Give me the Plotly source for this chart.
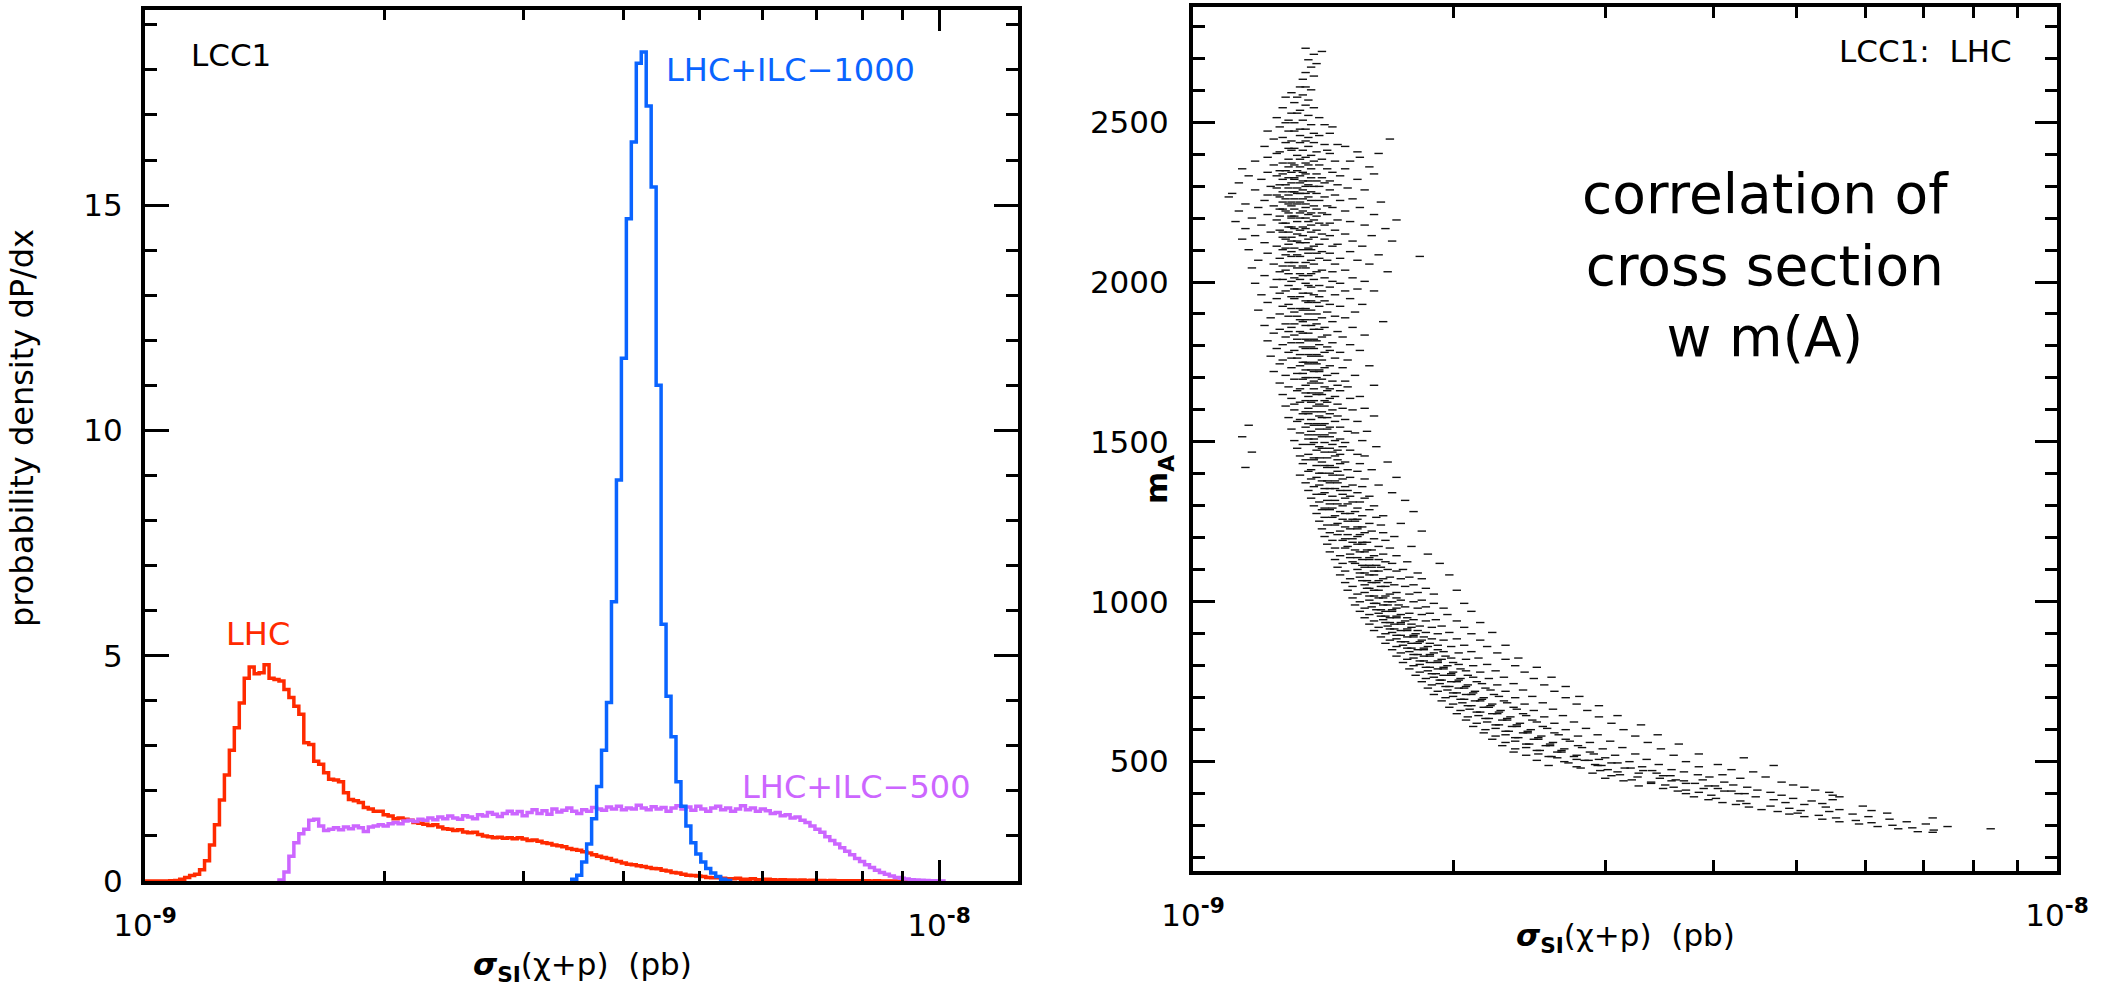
import plotly.graph_objects as go

W, H = 2106, 995

# ---------------- left panel: histograms (bins of 1/160 decade starting at 1e-9) ----------------
BIN_DEX = 0.00625
LOG_X0 = -9.0

RED_START = 0
RED_LHC = [
    0, 0, 0, 0, 0, 0.005, 0.01, 0.04, 0.08, 0.12,
    0.15, 0.25, 0.45, 0.8, 1.25, 1.8, 2.35, 2.9, 3.4, 3.95,
    4.5, 4.75, 4.6, 4.62, 4.8, 4.5, 4.47, 4.44, 4.25, 4.07,
    3.88, 3.70, 3.07, 3.03, 2.66, 2.59, 2.40, 2.26, 2.24, 2.2,
    1.96, 1.81, 1.78, 1.74, 1.63, 1.6, 1.55, 1.55, 1.47, 1.44,
    1.38, 1.40, 1.37, 1.35, 1.30, 1.28, 1.26, 1.23, 1.25, 1.2,
    1.16, 1.15, 1.12, 1.14, 1.09, 1.07, 1.08, 1.03, 1.0, 0.98,
    0.96, 0.97, 0.95, 0.96, 0.94, 0.96, 0.93, 0.90, 0.91, 0.88,
    0.85, 0.83, 0.80, 0.78, 0.76, 0.72, 0.7, 0.68, 0.65, 0.62,
    0.58, 0.55, 0.52, 0.50, 0.46, 0.43, 0.40, 0.37, 0.36, 0.34,
    0.32, 0.30, 0.28, 0.27, 0.24, 0.22, 0.19, 0.18, 0.15, 0.13,
    0.12, 0.11, 0.10, 0.08, 0.07, 0.07, 0.06, 0.05, 0.05, 0.06,
    0.04, 0.04, 0.05, 0.03, 0.03, 0.04, 0.03, 0.02, 0.03, 0.02,
    0.02, 0.015, 0.02, 0.01, 0.015, 0.01, 0.01, 0.008, 0.01, 0.005,
    0.005, 0.004, 0.003, 0.005, 0.002, 0.003, 0.002, 0.004, 0.002, 0.001,
    0.002, 0.001, 0.002, 0.001, 0.001, 0.002, 0.001, 0.001, 0, 0.001,
]

VIOLET_START = 27
VIOLET_ILC500 = [
    0.02, 0.2, 0.55, 0.85, 1.05, 1.15, 1.35, 1.37, 1.22, 1.12,
    1.15, 1.18, 1.14, 1.2, 1.16, 1.22, 1.18, 1.1, 1.2, 1.22,
    1.25, 1.22, 1.27, 1.3, 1.27, 1.33, 1.35, 1.32, 1.37, 1.35,
    1.40, 1.36, 1.42, 1.38, 1.44, 1.40, 1.37, 1.45, 1.42, 1.38,
    1.47, 1.44, 1.52, 1.48, 1.43, 1.5, 1.55, 1.49, 1.54, 1.45,
    1.52, 1.58, 1.50, 1.56, 1.48, 1.6, 1.53, 1.57, 1.62, 1.55,
    1.5, 1.58, 1.55, 1.63, 1.6, 1.57, 1.64, 1.6, 1.66, 1.58,
    1.62, 1.6, 1.68, 1.62, 1.58, 1.65, 1.6, 1.63, 1.55, 1.62,
    1.67, 1.6, 1.64, 1.57, 1.66, 1.6, 1.55, 1.62, 1.66, 1.58,
    1.62, 1.55, 1.6, 1.67, 1.58, 1.62, 1.55, 1.6, 1.56, 1.5,
    1.52, 1.45, 1.47, 1.4, 1.42, 1.35, 1.3, 1.22, 1.15, 1.08,
    0.98, 0.9, 0.82, 0.74, 0.66, 0.58, 0.5, 0.43, 0.36, 0.3,
    0.24, 0.19, 0.15, 0.11, 0.08, 0.06, 0.045, 0.03, 0.02, 0.015,
    0.01, 0.007, 0.004, 0.002,
]

BLUE_START = 86
BLUE_ILC1000 = [
    0.04, 0.13, 0.42, 0.82, 1.38, 2.1, 2.9, 3.96,
    6.2, 8.9, 11.6, 14.7, 16.4, 18.15, 18.4, 17.2,
    15.4, 11.0, 5.7, 4.1, 3.2, 2.2, 1.66, 1.22,
    0.85, 0.6, 0.42, 0.28, 0.18, 0.1, 0.04, 0.01,
]

# ---------------- right panel: scatter sigma_SI (1e-9 pb) vs m_A (GeV) ----------------
# each row: even-indexed points at MA_ROWS[i], odd-indexed points at MA_ROWS_B[i]
MA_ROWS = [2731, 2712, 2695, 2672, 2655, 2634, 2610, 2592, 2578, 2561, 2545, 2528, 2514, 2498, 2485,
           2472, 2458, 2447, 2436, 2424, 2412, 2402, 2390, 2378, 2366, 2354, 2343, 2332, 2321, 2310,
           2299, 2288, 2277, 2266, 2255, 2244, 2233, 2222, 2211, 2200, 2189, 2178, 2167, 2156, 2145,
           2134, 2123, 2112, 2101, 2090, 2080, 2068, 2056, 2044, 2032, 2020, 2008, 1996, 1984, 1972,
           1960, 1948, 1936, 1924, 1912, 1900, 1888, 1876, 1864, 1852, 1840, 1828, 1816, 1804, 1792,
           1780, 1768, 1756, 1744, 1732, 1720, 1708, 1696, 1684, 1672, 1660, 1648, 1636, 1624, 1612,
           1600, 1588, 1576, 1564, 1552, 1540, 1528, 1516, 1504, 1492, 1480, 1468, 1456, 1444, 1432,
           1420, 1408, 1396, 1384, 1372, 1360, 1348, 1336, 1324, 1312, 1300, 1288, 1276, 1264, 1252,
           1240, 1228, 1216, 1204, 1192, 1180, 1168, 1156, 1144, 1132, 1120, 1108, 1096, 1084, 1072,
           1060, 1048, 1036, 1024, 1012, 1000, 990, 980, 970, 960, 950, 940, 930, 920, 910,
           900, 890, 880, 870, 860, 850, 840, 830, 820, 810, 800, 790, 780, 770, 760,
           750, 740, 730, 720, 710, 700, 690, 680, 670, 660, 650, 640, 630, 620, 610,
           600, 590, 580, 570, 560, 550, 540, 530, 520, 512, 504, 496, 488, 480, 472,
           464, 456, 448, 440, 432, 424, 416, 408, 400, 390, 381, 372, 366, 358, 350,
           344, 336, 328, 320, 312, 305, 297, 290, 281]

MA_ROWS_B = [2721, 2703, 2683, 2664, 2644, 2622, 2601, 2585, 2569, 2553, 2537, 2521, 2506, 2492, 2478,
             2465, 2452, 2441, 2430, 2418, 2407, 2396, 2384, 2372, 2360, 2348, 2338, 2326, 2316, 2304,
             2294, 2282, 2272, 2260, 2250, 2238, 2228, 2216, 2206, 2194, 2184, 2172, 2162, 2150, 2140,
             2128, 2118, 2106, 2095, 2085, 2074, 2061, 2050, 2037, 2026, 2013, 2002, 1989, 1978, 1965,
             1954, 1941, 1930, 1917, 1906, 1893, 1882, 1869, 1858, 1845, 1834, 1821, 1810, 1797, 1786,
             1773, 1762, 1749, 1738, 1725, 1714, 1701, 1690, 1677, 1666, 1653, 1642, 1629, 1618, 1605,
             1594, 1581, 1570, 1557, 1546, 1533, 1522, 1509, 1498, 1485, 1474, 1461, 1450, 1437, 1426,
             1413, 1402, 1389, 1378, 1365, 1354, 1341, 1330, 1317, 1306, 1293, 1282, 1269, 1258, 1245,
             1234, 1221, 1210, 1197, 1186, 1173, 1162, 1149, 1138, 1125, 1114, 1101, 1090, 1077, 1066,
             1053, 1042, 1029, 1018, 1005, 995, 984, 975, 964, 955, 944, 935, 924, 915, 904,
             895, 884, 875, 864, 855, 844, 835, 824, 815, 804, 795, 784, 775, 764, 755,
             744, 735, 724, 715, 704, 695, 684, 675, 664, 655, 644, 635, 624, 615, 604,
             595, 584, 575, 564, 555, 544, 535, 524, 516, 507, 500, 491, 484, 475, 468,
             459, 452, 443, 436, 427, 420, 411, 404, 395, 385, 377, 369, 361, 354, 347,
             339, 332, 324, 316, 309, 301, 293, 286, 279]

SIGMA_ROWS = [
    [1.35, 1.41], [1.38], [1.36, 1.39], [1.37], [1.35, 1.38], [1.34], [1.33, 1.37, 1.35],
    [1.30, 1.34], [1.28, 1.36, 1.32], [1.31, 1.35], [1.27, 1.33, 1.38], [1.30, 1.36, 1.32],
    [1.25, 1.34, 1.40, 1.29], [1.31, 1.37, 1.28, 1.42], [1.26, 1.33, 1.45, 1.35],
    [1.29, 1.38, 1.31, 1.44, 1.22], [1.33, 1.27, 1.40, 1.36], [1.69, 1.30, 1.24, 1.35],
    [1.28, 1.42, 1.33, 1.47, 1.38], [1.21, 1.31, 1.36, 1.29, 1.50], [1.34, 1.26, 1.43, 1.39, 1.30, 1.55],
    [1.64, 1.32, 1.25, 1.37, 1.44], [1.56, 1.29, 1.35, 1.41, 1.22, 1.33],
    [1.18, 1.30, 1.38, 1.27, 1.46, 1.35, 1.52], [1.24, 1.33, 1.40, 1.29, 1.36, 1.60, 1.31],
    [1.14, 1.28, 1.37, 1.32, 1.43, 1.26, 1.50], [1.22, 1.35, 1.30, 1.39, 1.45, 1.27, 1.34, 1.62],
    [1.16, 1.29, 1.33, 1.41, 1.25, 1.37, 1.48, 1.31], [1.20, 1.34, 1.27, 1.39, 1.31, 1.44, 1.55, 1.36],
    [1.13, 1.26, 1.30, 1.36, 1.42, 1.28, 1.33, 1.47], [1.23, 1.32, 1.38, 1.29, 1.35, 1.51, 1.40, 1.25],
    [1.18, 1.27, 1.34, 1.31, 1.44, 1.37, 1.58, 1.30], [1.11, 1.25, 1.33, 1.29, 1.39, 1.46, 1.35, 1.22, 1.32],
    [1.10, 1.28, 1.36, 1.31, 1.42, 1.34, 1.26, 1.53], [1.21, 1.30, 1.37, 1.27, 1.40, 1.33, 1.48, 1.65],
    [1.15, 1.24, 1.32, 1.38, 1.29, 1.43, 1.35, 1.30], [1.19, 1.27, 1.35, 1.31, 1.45, 1.39, 1.56, 1.26],
    [1.13, 1.29, 1.34, 1.41, 1.28, 1.37, 1.50, 1.33], [1.22, 1.31, 1.36, 1.26, 1.43, 1.39, 1.62, 1.30],
    [1.17, 1.25, 1.33, 1.38, 1.30, 1.47, 1.35, 1.72], [1.12, 1.28, 1.32, 1.40, 1.36, 1.27, 1.52, 1.44],
    [1.20, 1.30, 1.37, 1.34, 1.42, 1.29, 1.58], [1.15, 1.26, 1.35, 1.39, 1.31, 1.46, 1.67, 1.33],
    [1.23, 1.32, 1.29, 1.41, 1.37, 1.50, 1.27], [1.18, 1.27, 1.34, 1.38, 1.44, 1.30, 1.61],
    [1.14, 1.30, 1.36, 1.32, 1.42, 1.53, 1.28, 1.70], [1.21, 1.29, 1.35, 1.40, 1.33, 1.47],
    [1.25, 1.31, 1.38, 1.28, 1.45, 1.36, 1.57], [1.16, 1.30, 1.34, 1.41, 1.37, 1.52, 1.27],
    [1.22, 1.28, 1.36, 1.32, 1.44, 1.64, 1.39], [1.83, 1.26, 1.33, 1.40, 1.30, 1.48],
    [1.19, 1.31, 1.37, 1.29, 1.43, 1.35, 1.55], [1.24, 1.30, 1.38, 1.34, 1.46, 1.27, 1.60],
    [1.17, 1.28, 1.35, 1.41, 1.32, 1.50], [1.26, 1.33, 1.39, 1.29, 1.45, 1.37, 1.68],
    [1.21, 1.31, 1.36, 1.42, 1.34, 1.53], [1.27, 1.30, 1.38, 1.45, 1.33, 1.58, 1.25],
    [1.18, 1.29, 1.35, 1.40, 1.48, 1.36], [1.24, 1.32, 1.37, 1.31, 1.44, 1.55],
    [1.28, 1.34, 1.41, 1.36, 1.50, 1.26, 1.62], [1.20, 1.30, 1.38, 1.33, 1.46, 1.40],
    [1.25, 1.35, 1.31, 1.42, 1.52, 1.37], [1.22, 1.29, 1.36, 1.44, 1.39, 1.57],
    [1.27, 1.33, 1.40, 1.35, 1.48, 1.30], [1.19, 1.31, 1.37, 1.43, 1.34, 1.54],
    [1.26, 1.32, 1.39, 1.46, 1.36, 1.29], [1.23, 1.35, 1.41, 1.33, 1.50, 1.38],
    [1.66, 1.28, 1.34, 1.39, 1.45, 1.31], [1.21, 1.30, 1.37, 1.42, 1.35, 1.53],
    [1.26, 1.33, 1.38, 1.47, 1.40, 1.29], [1.24, 1.31, 1.36, 1.43, 1.34, 1.58],
    [1.28, 1.35, 1.41, 1.38, 1.49, 1.32], [1.22, 1.33, 1.39, 1.45, 1.36, 1.30],
    [1.27, 1.34, 1.40, 1.37, 1.52, 1.43], [1.25, 1.31, 1.38, 1.44, 1.35, 1.56],
    [1.29, 1.36, 1.42, 1.33, 1.48, 1.39], [1.23, 1.32, 1.37, 1.46, 1.40, 1.30],
    [1.27, 1.35, 1.41, 1.38, 1.51, 1.34], [1.26, 1.33, 1.39, 1.44, 1.36, 1.60],
    [1.30, 1.37, 1.42, 1.35, 1.49, 1.40], [1.24, 1.34, 1.40, 1.46, 1.38, 1.32],
    [1.28, 1.36, 1.43, 1.39, 1.54, 1.35], [1.31, 1.38, 1.34, 1.45, 1.41, 1.50],
    [1.26, 1.35, 1.40, 1.47, 1.37, 1.62], [1.29, 1.33, 1.42, 1.38, 1.51, 1.44],
    [1.32, 1.37, 1.43, 1.40, 1.48, 1.35], [1.27, 1.36, 1.41, 1.46, 1.39, 1.56],
    [1.30, 1.38, 1.44, 1.35, 1.52, 1.42], [1.33, 1.40, 1.37, 1.47, 1.43, 1.31],
    [1.28, 1.36, 1.42, 1.49, 1.39, 1.58], [1.31, 1.38, 1.45, 1.41, 1.53, 1.35],
    [1.34, 1.40, 1.36, 1.47, 1.44, 1.62], [1.29, 1.37, 1.43, 1.50, 1.41, 1.33],
    [1.32, 1.39, 1.46, 1.42, 1.55, 1.36], [1.16, 1.35, 1.41, 1.48, 1.38, 1.44],
    [1.30, 1.37, 1.43, 1.51, 1.40, 1.59], [1.33, 1.39, 1.45, 1.42, 1.54, 1.36],
    [1.14, 1.36, 1.41, 1.48, 1.44, 1.38], [1.31, 1.38, 1.46, 1.42, 1.57, 1.50],
    [1.34, 1.40, 1.37, 1.49, 1.45, 1.63], [1.32, 1.39, 1.44, 1.52, 1.41, 1.47],
    [1.17, 1.36, 1.42, 1.48, 1.45, 1.55], [1.33, 1.40, 1.46, 1.43, 1.58, 1.38],
    [1.35, 1.41, 1.38, 1.50, 1.47, 1.68], [1.34, 1.42, 1.48, 1.44, 1.56, 1.39],
    [1.15, 1.37, 1.43, 1.51, 1.46, 1.61], [1.36, 1.41, 1.47, 1.44, 1.55, 1.40],
    [1.33, 1.39, 1.45, 1.52, 1.48, 1.72], [1.37, 1.43, 1.49, 1.46, 1.58, 1.41],
    [1.35, 1.40, 1.47, 1.53, 1.44, 1.64], [1.38, 1.44, 1.50, 1.46, 1.57, 1.42],
    [1.36, 1.42, 1.48, 1.55, 1.51, 1.70], [1.39, 1.45, 1.41, 1.52, 1.49, 1.60],
    [1.37, 1.43, 1.50, 1.46, 1.58, 1.76], [1.40, 1.47, 1.53, 1.44, 1.56, 1.51],
    [1.38, 1.45, 1.49, 1.55, 1.62, 1.42], [1.41, 1.48, 1.44, 1.54, 1.60, 1.80],
    [1.39, 1.46, 1.52, 1.57, 1.50, 1.66], [1.42, 1.49, 1.45, 1.55, 1.63, 1.53],
    [1.40, 1.47, 1.54, 1.60, 1.51, 1.74], [1.43, 1.50, 1.46, 1.57, 1.65, 1.55],
    [1.41, 1.48, 1.55, 1.61, 1.52, 1.84], [1.44, 1.51, 1.58, 1.47, 1.66, 1.56],
    [1.42, 1.50, 1.55, 1.62, 1.71, 1.53], [1.45, 1.53, 1.49, 1.59, 1.67, 1.57],
    [1.43, 1.51, 1.57, 1.64, 1.55, 1.79], [1.46, 1.54, 1.50, 1.61, 1.69, 1.59],
    [1.44, 1.52, 1.58, 1.66, 1.56, 1.87], [1.48, 1.55, 1.62, 1.52, 1.72, 1.60],
    [1.46, 1.53, 1.60, 1.67, 1.57, 1.77, 1.64], [1.49, 1.57, 1.54, 1.63, 1.70, 1.60, 1.93],
    [1.47, 1.55, 1.61, 1.68, 1.58, 1.75, 1.65], [1.50, 1.58, 1.64, 1.56, 1.72, 1.82, 1.62],
    [1.48, 1.56, 1.62, 1.69, 1.60, 1.78, 1.98], [1.52, 1.59, 1.66, 1.57, 1.74, 1.64, 1.84],
    [1.50, 1.58, 1.63, 1.71, 1.61, 1.80, 1.68], [1.53, 1.60, 1.67, 1.59, 1.76, 1.86, 1.65],
    [1.51, 1.58, 1.64, 1.72, 1.62, 1.82, 2.02], [1.55, 1.62, 1.69, 1.60, 1.78, 1.67, 1.90],
    [1.53, 1.60, 1.66, 1.74, 1.64, 1.84, 1.72], [1.56, 1.63, 1.70, 1.62, 1.80, 1.90, 1.68, 2.06],
    [1.54, 1.61, 1.68, 1.76, 1.66, 1.86, 1.73], [1.58, 1.65, 1.72, 1.63, 1.82, 1.70, 1.95],
    [1.56, 1.64, 1.70, 1.78, 1.67, 1.88, 2.10], [1.60, 1.67, 1.74, 1.65, 1.84, 1.72, 1.97],
    [1.58, 1.66, 1.72, 1.80, 1.69, 1.91, 1.77], [1.62, 1.69, 1.76, 1.67, 1.86, 1.74, 2.02, 2.15],
    [1.60, 1.68, 1.74, 1.83, 1.71, 1.94, 1.79], [1.64, 1.71, 1.79, 1.69, 1.89, 1.77, 2.06],
    [1.62, 1.70, 1.77, 1.86, 1.74, 1.98, 1.82, 2.22], [1.67, 1.74, 1.81, 1.72, 1.92, 1.80, 2.10],
    [1.65, 1.72, 1.80, 1.89, 1.77, 2.02, 1.85], [1.69, 1.76, 1.84, 1.74, 1.95, 1.83, 2.15],
    [1.67, 1.75, 1.82, 1.92, 1.79, 2.06, 1.88, 2.30], [1.72, 1.79, 1.87, 1.77, 1.99, 1.85, 2.19],
    [1.70, 1.78, 1.85, 1.95, 1.82, 2.10, 1.92], [1.74, 1.82, 1.90, 1.80, 2.03, 1.88, 2.25],
    [1.72, 1.80, 1.88, 1.99, 1.85, 2.14, 1.96, 2.38], [1.77, 1.85, 1.94, 1.83, 2.07, 1.92, 2.30],
    [1.75, 1.83, 1.92, 2.03, 1.88, 2.19, 2.00], [1.80, 1.88, 1.97, 1.86, 2.11, 1.95, 2.36, 2.50],
    [1.78, 1.87, 1.95, 2.07, 1.92, 2.24, 2.04], [1.83, 1.91, 2.00, 1.89, 2.15, 1.99, 2.42],
    [1.81, 1.90, 1.99, 2.11, 1.95, 2.29, 2.08, 2.60], [1.86, 1.94, 2.04, 1.93, 2.20, 2.03, 2.48],
    [1.84, 1.93, 2.02, 2.16, 1.99, 2.35, 2.13], [1.89, 1.98, 2.08, 1.96, 2.25, 2.07, 2.55, 2.70],
    [1.87, 1.97, 2.06, 2.21, 2.03, 2.41, 2.18], [1.92, 2.02, 2.12, 2.00, 2.30, 2.11, 2.62],
    [1.90, 2.00, 2.10, 2.26, 2.07, 2.47, 2.23, 2.80], [1.96, 2.06, 2.17, 2.04, 2.36, 2.16, 2.70],
    [1.94, 2.05, 2.15, 2.31, 2.12, 2.54, 2.29], [2.00, 2.10, 2.22, 2.08, 2.42, 2.21, 2.78, 2.95],
    [1.98, 2.09, 2.20, 2.37, 2.17, 2.61, 2.35], [2.04, 2.15, 2.27, 2.13, 2.48, 2.26, 2.86],
    [2.02, 2.14, 2.25, 2.43, 2.22, 2.68, 2.41, 3.10], [2.08, 2.20, 2.33, 2.18, 2.55, 2.31, 2.95],
    [2.07, 2.19, 2.31, 2.50, 2.28, 2.76, 2.47], [2.13, 2.26, 2.39, 2.24, 2.62, 2.37, 3.05, 3.30],
    [2.11, 2.24, 2.37, 2.57, 2.34, 2.85, 2.54], [2.18, 2.32, 2.46, 2.30, 2.70, 2.44, 3.15],
    [2.17, 2.30, 2.44, 2.65, 2.41, 2.94, 2.62, 3.45], [2.24, 2.38, 2.53, 2.36, 2.79, 2.51, 3.25],
    [2.22, 2.36, 2.51, 2.73, 2.48, 3.04, 2.70], [2.30, 2.45, 2.61, 2.43, 2.88, 2.59, 3.36, 3.65],
    [2.28, 2.43, 2.59, 2.82, 2.56, 3.14, 2.79], [2.36, 2.52, 2.69, 2.50, 2.98, 2.67, 3.48],
    [2.35, 2.51, 2.67, 2.91, 2.64, 3.25, 2.88, 3.85], [2.43, 2.60, 2.78, 2.58, 3.08, 2.76, 3.60],
    [2.64, 2.78, 3.00, 3.35, 4.34, 2.95], [2.50, 2.69, 2.87, 3.20, 2.84, 3.72],
    [2.72, 2.92, 3.10, 3.46, 3.05, 4.05], [2.58, 2.78, 2.97, 3.31, 2.94, 3.85, 4.70],
    [2.81, 3.02, 3.21, 3.58, 3.16, 4.20], [2.96, 3.10, 3.32, 3.70, 3.40, 4.45],
    [2.90, 3.12, 3.44, 3.84, 3.28, 4.10], [3.05, 3.27, 3.57, 3.96, 3.50, 4.60],
    [3.00, 3.22, 3.47, 3.89, 4.30, 3.62], [3.15, 3.39, 3.70, 4.12, 3.58, 4.80],
    [3.39, 3.52, 3.81, 4.22, 3.72, 4.95], [3.28, 3.60, 3.95, 4.38, 4.02, 5.10],
    [3.50, 3.72, 4.05, 4.50, 3.90, 5.25], [3.64, 3.85, 4.20, 4.66, 4.12, 5.45],
    [3.72, 3.98, 4.35, 4.80, 4.28, 5.50], [3.80, 4.03, 4.48, 4.95, 5.60],
    [3.95, 4.30, 4.70, 5.20, 5.50], [4.10, 4.37, 4.85, 5.35], [4.25, 4.66, 5.10, 5.96],
    [4.40, 4.90, 5.40], [4.55, 5.05, 5.60, 6.10], [4.75, 5.01, 5.45, 6.36], [4.90, 5.30, 5.80],
    [5.10, 5.55, 6.05, 7.18], [5.35, 5.85, 6.40], [5.60, 6.10, 6.70], [5.90, 6.45, 7.05],
    [6.20, 6.80, 7.47], [6.55, 7.20, 8.38], [6.90, 7.18],
]

# tick labels
X_TICKVALS = [1e-9, 1e-8]
X_TICKTEXT = ["10<sup><b>-9</b></sup>", "10<sup><b>-8</b></sup>"]
X_MINOR = [2e-9, 3e-9, 4e-9, 5e-9, 6e-9, 7e-9, 8e-9, 9e-9]
Y1_TICKVALS = [0, 5, 10, 15]
Y2_TICKVALS = [500, 1000, 1500, 2000, 2500]

RED = "#ff2a00"
BLUE = "#0a64ff"
VIOLET = "#cc66ff"
FONT = "DejaVu Sans"


def hist_xy(start, vals):
    edges = [10 ** (LOG_X0 + (start + i) * BIN_DEX) for i in range(len(vals) + 1)]
    xs = [edges[0]] + edges
    ys = [0] + list(vals) + [0]
    return xs, ys


fig = go.Figure()
for start, vals, col in [(RED_START, RED_LHC, RED), (VIOLET_START, VIOLET_ILC500, VIOLET),
                         (BLUE_START, BLUE_ILC1000, BLUE)]:
    xs, ys = hist_xy(start, vals)
    fig.add_trace(go.Scatter(x=xs, y=ys, mode="lines", line=dict(shape="hv", color=col, width=3.5),
                             xaxis="x", yaxis="y", hoverinfo="skip"))

sx, sy = [], []
for ma, mb, row in zip(MA_ROWS, MA_ROWS_B, SIGMA_ROWS):
    for j, s in enumerate(row):
        sx.append(s * 1e-9)
        sy.append(ma if j % 2 == 0 else mb)
fig.add_trace(go.Scatter(x=sx, y=sy, mode="markers", xaxis="x2", yaxis="y2",
                         marker=dict(symbol="line-ew", size=6, color="#111111",
                                     line=dict(width=1.4, color="#111111")), hoverinfo="skip"))


def px(x):
    return x / W


def py(y):
    return 1 - y / H


tickfont = dict(family=FONT, size=31, color="black")
common_axis = dict(showline=True, linewidth=4, linecolor="black", mirror="ticks", ticks="inside",
                   tickwidth=3, tickcolor="black", showgrid=False, zeroline=False, tickfont=tickfont,
                   automargin=False)

fig.update_layout(
    width=W, height=H, margin=dict(l=0, r=0, t=0, b=0, autoexpand=False),
    paper_bgcolor="white", plot_bgcolor="white", showlegend=False,
    xaxis=dict(type="log", domain=[px(145), px(1018)], range=[-9, -7.9005], anchor="y",
               tickmode="array", tickvals=X_TICKVALS, ticktext=X_TICKTEXT, ticklen=21,
               ticklabelstandoff=14,
               minor=dict(ticks="inside", tickmode="array", tickvals=X_MINOR, ticklen=10,
                          tickwidth=3, tickcolor="black", showgrid=False),
               **common_axis),
    yaxis=dict(domain=[py(881), py(10)], range=[0, 19.33], anchor="x",
               tickmode="array", tickvals=Y1_TICKVALS, ticklen=24, ticklabelstandoff=12,
               minor=dict(ticks="inside", dtick=1, tick0=0, ticklen=12, tickwidth=3,
                          tickcolor="black", showgrid=False),
               **common_axis),
    xaxis2=dict(type="log", domain=[px(1193), px(2057)], range=[-9, -8], anchor="y2",
                tickmode="array", tickvals=X_TICKVALS, ticktext=X_TICKTEXT, ticklen=21,
                ticklabelstandoff=14,
                minor=dict(ticks="inside", tickmode="array", tickvals=X_MINOR, ticklen=11,
                           tickwidth=3, tickcolor="black", showgrid=False),
                **common_axis),
    yaxis2=dict(domain=[py(871), py(7)], range=[158, 2860], anchor="x2",
                tickmode="array", tickvals=Y2_TICKVALS, ticklen=22, ticklabelstandoff=14,
                minor=dict(ticks="inside", dtick=100, tick0=0, ticklen=12, tickwidth=3,
                           tickcolor="black", showgrid=False),
                **common_axis),
)

ann = []


def add_text(text, x, y, size, color="black", angle=0, family=FONT):
    ann.append(dict(text=text, x=px(x), y=py(y), xref="paper", yref="paper", showarrow=False,
                    xanchor="center", yanchor="middle", textangle=angle,
                    font=dict(family=family, size=size, color=color)))


add_text("LCC1", 231, 55, 31)
add_text("LHC+ILC\u22121000", 790, 70, 32, BLUE)
add_text("LHC", 258, 634, 32, RED)
add_text("LHC+ILC\u2212500", 856, 787, 32, VIOLET)
add_text("LCC1:\u00a0 LHC", 1925, 51, 31)
add_text("correlation of<br>cross section<br>w m(A)", 1765, 266, 55)
add_text("<b><i>\u03c3</i></b><sub><b>SI</b></sub>(\u03c7+p)\u00a0\u00a0(pb)", 582, 966, 31)
add_text("<b><i>\u03c3</i></b><sub><b>SI</b></sub>(\u03c7+p)\u00a0\u00a0(pb)", 1625, 937, 31)
add_text("probability density dP/dx", 22, 428, 32, angle=-90)
add_text("<b>m</b><sub><b>A</b></sub>", 1158, 480, 31, angle=-90)
fig.update_layout(annotations=ann)

fig.write_html(
    "out.html",
    config={"displayModeBar": False},
    post_script="document.documentElement.style.margin='0px';document.body.style.margin='0px';"
                "document.body.style.padding='0px';document.body.style.overflow='hidden';",
)
